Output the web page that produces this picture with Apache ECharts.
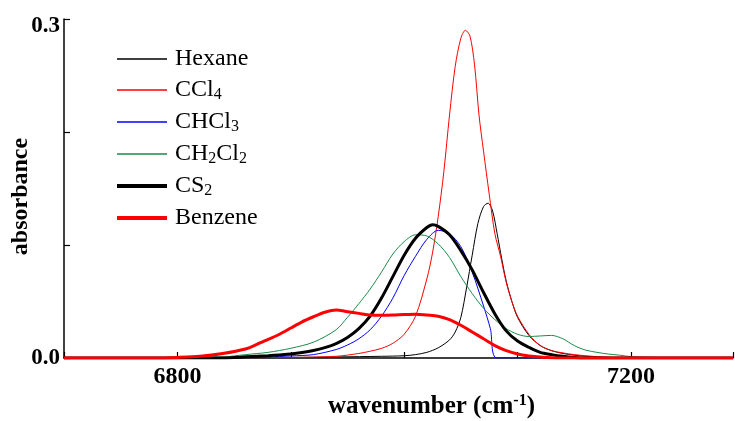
<!DOCTYPE html>
<html>
<head>
<meta charset="utf-8">
<script src="https://cdn.jsdelivr.net/npm/echarts@6/dist/echarts.min.js"></script>
<style>
  html, body { margin: 0; padding: 0; background: #fff; }
  #chart { width: 735px; height: 421px; }
</style>
</head>
<body>
<div id="chart"></div>
<script>
// [wavenumber, absorbance]
const hexane = [[6700, 0], [6900, 0.0005], [6980, 0.0015], [7000, 0.002], [7010, 0.003], [7020, 0.005], [7030, 0.009], [7040, 0.016], [7045, 0.023], [7050, 0.036], [7055, 0.062], [7060, 0.091], [7065, 0.119], [7070, 0.134], [7074, 0.137], [7078, 0.13], [7082, 0.11], [7086, 0.088], [7090, 0.068], [7095, 0.05], [7100, 0.036], [7110, 0.02], [7120, 0.011], [7130, 0.0065], [7140, 0.004], [7150, 0.0025], [7160, 0.0015], [7180, 0.0005], [7200, 0], [7290, 0]]
const ccl4 = [[6700, 0], [6900, 0.0005], [6940, 0.0015], [6960, 0.004], [6970, 0.006], [6980, 0.0085], [6990, 0.013], [7000, 0.021], [7010, 0.037], [7020, 0.07], [7025, 0.093], [7030, 0.125], [7035, 0.165], [7040, 0.215], [7045, 0.258], [7050, 0.283], [7054, 0.29], [7058, 0.285], [7062, 0.26], [7066, 0.215], [7070, 0.183], [7075, 0.145], [7080, 0.11], [7085, 0.09], [7090, 0.067], [7095, 0.05], [7100, 0.037], [7110, 0.021], [7120, 0.011], [7130, 0.0065], [7140, 0.0045], [7150, 0.003], [7160, 0.002], [7180, 0.0005], [7200, 0], [7290, 0]]
const chcl3 = [[6700, 0], [6860, 0.0005], [6880, 0.001], [6900, 0.0018], [6920, 0.003], [6940, 0.0075], [6950, 0.0115], [6960, 0.017], [6970, 0.025], [6980, 0.037], [6990, 0.053], [7000, 0.073], [7010, 0.09], [7020, 0.105], [7030, 0.113], [7040, 0.11], [7050, 0.0985], [7060, 0.076], [7070, 0.046], [7076, 0.026], [7082, 0], [7290, 0]]
const ch2cl2 = [[6700, 0], [6840, 0.001], [6860, 0.003], [6880, 0.005], [6900, 0.0086], [6920, 0.014], [6940, 0.025], [6950, 0.036], [6960, 0.048], [6970, 0.061], [6980, 0.076], [6990, 0.092], [7000, 0.103], [7010, 0.109], [7020, 0.108], [7030, 0.101], [7040, 0.089], [7050, 0.072], [7060, 0.057], [7070, 0.044], [7080, 0.034], [7090, 0.026], [7100, 0.021], [7110, 0.019], [7120, 0.0195], [7130, 0.02], [7140, 0.017], [7150, 0.011], [7160, 0.007], [7170, 0.005], [7180, 0.0035], [7190, 0.0025], [7200, 0.0012], [7220, 0.0005], [7250, 0.0002], [7290, 0]]
const cs2 = [[6700, 0], [6840, 0], [6850, 0.0005], [6860, 0.001], [6870, 0.0015], [6880, 0.002], [6890, 0.0027], [6900, 0.0035], [6910, 0.0048], [6920, 0.0066], [6930, 0.0092], [6940, 0.0128], [6950, 0.0182], [6960, 0.026], [6970, 0.037], [6980, 0.053], [6990, 0.072], [7000, 0.091], [7010, 0.106], [7020, 0.1155], [7025, 0.118], [7030, 0.1165], [7040, 0.109], [7050, 0.095], [7060, 0.078], [7070, 0.058], [7080, 0.039], [7090, 0.024], [7100, 0.015], [7110, 0.0095], [7120, 0.005], [7130, 0.003], [7140, 0.0015], [7150, 0.0005], [7160, 0], [7290, 0]]
const benzene = [[6700, 0], [6780, 0], [6800, 0.0005], [6820, 0.0015], [6840, 0.004], [6860, 0.008], [6870, 0.012], [6880, 0.0165], [6890, 0.021], [6900, 0.0265], [6910, 0.032], [6920, 0.0365], [6930, 0.0405], [6940, 0.0425], [6950, 0.041], [6960, 0.0395], [6970, 0.038], [6980, 0.0378], [6990, 0.038], [7000, 0.0385], [7010, 0.0388], [7020, 0.038], [7030, 0.037], [7040, 0.034], [7050, 0.029], [7060, 0.023], [7070, 0.017], [7080, 0.011], [7090, 0.0065], [7100, 0.0035], [7110, 0.0018], [7120, 0.0008], [7130, 0.0003], [7140, 0], [7290, 0]]

const xLabels = [6800, 7200]
const yLabels = [0, 0.3]

const serif = 'Liberation Serif'
const legendText = {
  Hexane: '{n|Hexane}',
  CCl4: '{n|CCl}{s|4}',
  CHCl3: '{n|CHCl}{s|3}',
  CH2Cl2: '{n|CH}{s|2}{n|Cl}{s|2}',
  CS2: '{n|CS}{s|2}',
  Benzene: '{n|Benzene}'
}

function line(name, data, color, width) {
  return {
    name,
    type: 'line',
    data,
    smooth: 0.3,
    symbol: 'none',
    lineStyle: { color, width },
    itemStyle: { color }
  }
}

const chart = echarts.init(document.getElementById('chart'))
chart.setOption({
  animation: false,
  backgroundColor: '#fff',
  grid: { left: 64, right: 2, top: 19, bottom: 63, outerBoundsMode: 'none' },
  legend: {
    orient: 'vertical',
    left: 110,
    top: 42,
    itemWidth: 50,
    itemHeight: 14,
    itemGap: 7,
    itemStyle: { color: 'transparent', borderWidth: 0, opacity: 0 },
    formatter: name => legendText[name],
    textStyle: {
      padding: [0, 0, 0, 3],
      rich: {
        n: { fontFamily: serif, fontSize: 24, color: '#000', lineHeight: 26 },
        s: { fontFamily: serif, fontSize: 16, color: '#000', lineHeight: 15, verticalAlign: 'bottom' }
      }
    },
    data: [
      { name: 'Hexane', lineStyle: { width: 1.5 } },
      { name: 'CCl4', lineStyle: { width: 1.5 } },
      { name: 'CHCl3', lineStyle: { width: 1.5 } },
      { name: 'CH2Cl2', lineStyle: { width: 1.5 } },
      { name: 'CS2', lineStyle: { width: 4 } },
      { name: 'Benzene', lineStyle: { width: 4 } }
    ]
  },
  xAxis: {
    type: 'value',
    min: 6700,
    max: 7290,
    interval: 100,
    name: '{n|wavenumber (cm}{p|-1}{n|)}',
    nameLocation: 'middle',
    nameGap: 35,
    nameMoveOverlap: false,
    nameTextStyle: {
      padding: [0, 0, 0, 66],
      rich: {
        n: { fontFamily: serif, fontSize: 25, fontWeight: 'bold', color: '#000', lineHeight: 28 },
        p: { fontFamily: serif, fontSize: 16, fontWeight: 'bold', color: '#000', lineHeight: 15, verticalAlign: 'top' }
      }
    },
    axisLine: { lineStyle: { color: '#000', width: 1.5 } },
    axisTick: { inside: true, length: 6, lineStyle: { color: '#000', width: 1.2 } },
    axisLabel: {
      margin: 7,
      fontFamily: serif,
      fontSize: 24,
      fontWeight: 'bold',
      color: '#000',
      formatter: v => (xLabels.includes(v) ? String(v) : '')
    },
    splitLine: { show: false }
  },
  yAxis: {
    type: 'value',
    min: 0,
    max: 0.3,
    interval: 0.1,
    name: 'absorbance',
    nameLocation: 'middle',
    nameGap: 31,
    nameMoveOverlap: false,
    nameTextStyle: { fontFamily: serif, fontSize: 24, fontWeight: 'bold', color: '#000', padding: [0, 16, 0, 0] },
    axisLine: { lineStyle: { color: '#000', width: 1.5 } },
    axisTick: { inside: true, length: 6, lineStyle: { color: '#000', width: 1.2 } },
    axisLabel: {
      margin: 4,
      fontFamily: serif,
      fontSize: 23,
      fontWeight: 'bold',
      color: '#000',
      formatter: v => {
        const hit = yLabels.find(l => Math.abs(l - v) < 1e-9)
        if (hit === undefined) return ''
        return hit === 0 ? '0.0' : '{t|' + hit.toFixed(1) + '}'
      },
      rich: {
        t: { fontFamily: serif, fontSize: 23, fontWeight: 'bold', color: '#000', padding: [14, 0, 0, 0] }
      }
    },
    splitLine: { show: false }
  },
  series: [
    line('Hexane', hexane, '#000000', 1),
    line('CCl4', ccl4, '#ff0000', 1),
    line('CHCl3', chcl3, '#0000ff', 1),
    line('CH2Cl2', ch2cl2, '#1b8a4a', 1),
    line('CS2', cs2, '#000000', 3),
    line('Benzene', benzene, '#ff0000', 3)
  ]
})
</script>
</body>
</html>
